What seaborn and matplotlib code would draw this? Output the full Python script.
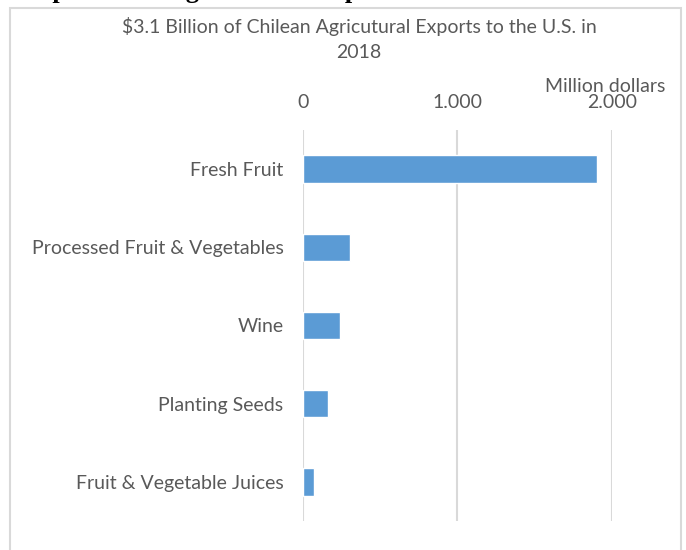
import matplotlib
matplotlib.use("Agg")
import matplotlib.pyplot as plt
import matplotlib.ticker as mticker
import matplotlib.patches as mpatches
import seaborn as sns
import pandas as pd

# === data ===
categories = ["Fresh Fruit", "Processed Fruit & Vegetables", "Wine",
              "Planting Seeds", "Fruit & Vegetable Juices"]
values = [1903, 301, 237, 160, 69]  # million dollars
x_ticks = [0, 1000, 2000]

title = "$3.1 Billion of Chilean Agricutural Exports to the U.S. in\n2018"
heading = "Top Chilean Agricultural Exports"  # page heading, clipped at the top edge

df = pd.DataFrame({"Category": categories, "Value": values})

sns.set_style("white")
plt.rcParams["font.family"] = ["Lato", "DejaVu Sans"]
text_grey = "#595959"
grid_grey = "#d9d9d9"
fs = 14

fig = plt.figure(figsize=(6.86, 5.5), dpi=100)
ax = fig.add_axes([303 / 686, 29 / 550, 309 / 686, 391 / 550])

sns.barplot(data=df, x="Value", y="Category", orient="h", color="#5b9bd5",
            width=0.35, saturation=1, ax=ax, zorder=3)

ax.set_xlim(0, 2000)
ax.set_ylim(4.5, -0.5)
ax.set_xticks(x_ticks)
ax.xaxis.set_major_formatter(mticker.FuncFormatter(lambda v, p: f"{int(v):,}".replace(",", ".")))
ax.xaxis.tick_top()
ax.tick_params(axis="x", length=0, pad=14, labelsize=fs, labelcolor=text_grey)
ax.tick_params(axis="y", length=0, pad=14, labelsize=fs, labelcolor=text_grey)
ax.grid(axis="x", color=grid_grey, linewidth=1.5, zorder=0)
for s in ax.spines.values():
    s.set_visible(False)
ax.set_xlabel("")
ax.set_ylabel("")

# axis title at the top right
fig.text(665 / 686, 1 - 86 / 550, "Million dollars", ha="right", va="center",
         fontsize=fs, color=text_grey)

# chart title
fig.text(359 / 686, 1 - 39 / 550, title, ha="center", va="center",
         fontsize=fs, color=text_grey, linespacing=1.5)

# chart frame (runs past the bottom of the picture)
frame = mpatches.Rectangle((10 / 686, -0.1), 671 / 686, 1.1 - 8 / 550,
                           transform=fig.transFigure, fill=False,
                           edgecolor=grid_grey, linewidth=1.5, clip_on=False)
fig.patches.append(frame)

# bold page heading, only its descenders show
fig.text(24 / 686, 1 + 2 / 550, heading, ha="left", va="baseline",
         fontsize=19, fontweight="bold", family="Liberation Serif", color="black")

fig.savefig("out.png", dpi=100)
